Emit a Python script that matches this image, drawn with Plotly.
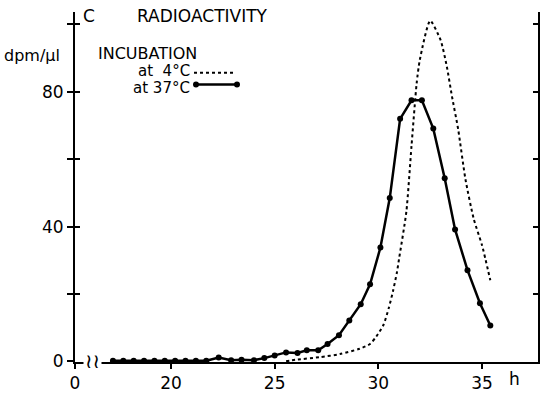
import plotly.graph_objects as go

# ---- data ----
hours_37 = [17.2, 17.7, 18.2, 18.7, 19.2, 19.7, 20.2, 20.7, 21.2, 21.7, 22.3, 22.9,
            23.4, 24.0, 24.5, 25.0, 25.55, 26.1, 26.55, 27.1, 27.55, 28.1, 28.6, 29.15,
            29.6, 30.1, 30.55, 31.05, 31.6, 32.1, 32.65, 33.2, 33.7, 34.3, 34.9, 35.4]
dpm_37 = [0.2, 0.2, 0.2, 0.2, 0.2, 0.2, 0.2, 0.2, 0.2, 0.2, 1.2, 0.4,
          0.5, 0.4, 1.0, 1.8, 2.7, 2.5, 3.3, 3.3, 5.2, 7.8, 12.2, 17.0,
          22.9, 33.8, 48.5, 72.0, 77.5, 77.5, 69.1, 54.4, 39.2, 27.1, 17.3, 10.7]

hours_4 = [25.55, 26.0, 27.2, 28.15, 29.1, 29.6, 29.9, 30.25, 30.5, 30.7, 30.9, 31.0,
           31.35, 31.6, 31.85, 32.0, 32.5, 33.0, 33.3, 33.55, 33.85, 34.2, 34.6, 35.0, 35.4]
dpm_4 = [0.05, 0.5, 1.3, 2.2, 3.8, 5.2, 7.4, 10.9, 15.8, 20.7, 26.6, 30.5,
         44.4, 64.0, 82.7, 89.5, 101.1, 95.4, 87.6, 78.7, 68.9, 54.1, 42.3, 34.5, 24.1]

x_tick_vals = [15.37, 20, 25, 30, 35]
x_tick_text = ["0", "20", "25", "30", "35"]
y_tick_vals = [0, 20, 40, 60, 80, 100]
y_tick_text = ["0", "", "40", "", "80", ""]

# ---- geometry ----
W, H = 544, 399
ML, MR, MT, MB = 75, 6, 12, 35
PW, PH = W - ML - MR, H - MT - MB
XR = [15.37, 37.70]
YR = [-0.15, 103.7]


def px(x):
    return (x - ML) / PW


def py(y):
    return (H - MB - y) / PH


FONT = "DejaVu Sans"
NB = "\u00a0"

fig = go.Figure()

fig.add_trace(go.Scatter(x=hours_4, y=dpm_4, mode="lines",
                         line=dict(color="black", width=2, dash="3px,3px", shape="spline", smoothing=0.6),
                         showlegend=False, hoverinfo="skip"))
fig.add_trace(go.Scatter(x=hours_37, y=dpm_37, mode="lines+markers", line=dict(color="black", width=2.5),
                         marker=dict(color="black", size=6), showlegend=False))
# invisible traces so that the extra tick axes are drawn
fig.add_trace(go.Scatter(x=hours_37, y=dpm_37, yaxis="y2", mode="lines", opacity=0, showlegend=False, hoverinfo="skip"))
fig.add_trace(go.Scatter(x=hours_37, y=dpm_37, yaxis="y3", mode="lines", opacity=0, showlegend=False, hoverinfo="skip"))

axis_common = dict(showgrid=False, zeroline=False)
fig.update_layout(
    width=W, height=H,
    margin=dict(l=ML, r=MR, t=MT, b=MB),
    paper_bgcolor="white", plot_bgcolor="white",
    font=dict(family=FONT, color="black"),
    xaxis=dict(range=XR, showline=True, linecolor="black", linewidth=2,
               ticks="outside", ticklen=5, tickwidth=2, tickcolor="black",
               tickvals=x_tick_vals, ticktext=x_tick_text,
               tickfont=dict(size=17, family=FONT), **axis_common),
    yaxis=dict(range=YR, showline=True, linecolor="black", linewidth=2,
               ticks="outside", ticklen=6, tickwidth=2, tickcolor="black",
               tickvals=y_tick_vals, ticktext=y_tick_text,
               tickfont=dict(size=17, family=FONT), **axis_common),
    yaxis2=dict(range=YR, overlaying="y", side="right", anchor="x", showline=True,
                linecolor="black", linewidth=2, ticks="inside", ticklen=5, tickwidth=2,
                tickcolor="black", tickvals=y_tick_vals, showticklabels=False, **axis_common),
    yaxis3=dict(range=YR, overlaying="y", side="left", anchor="x", showline=False,
                ticks="inside", ticklen=5, tickwidth=2, tickcolor="black",
                tickvals=y_tick_vals, showticklabels=False, **axis_common),
)

ann = []


def text(t, x, y, size=14, xanchor="center"):
    ann.append(dict(text=t, x=px(x), y=py(y), xref="paper", yref="paper", showarrow=False,
                    xanchor=xanchor, yanchor="middle", borderpad=0,
                    font=dict(size=size, family=FONT, color="black")))


text("C", 89, 16, 17)
text("RADIOACTIVITY", 202, 16, 17)
text("dpm/µl", 3, 56, 16, "left")
text("INCUBATION", 147, 54, 16)
text("at" + NB + NB + "4°C", 191, 71, 15, "right")
text("at" + NB + "37°C", 191, 88.5, 15, "right")
text("h", 514, 381, 17)
# axis break
ann.append(dict(text="≀≀", x=16.2, y=0, xref="x", yref="y", showarrow=False,
                xanchor="center", yanchor="middle", bgcolor="white",
                font=dict(size=20, family="DejaVu Sans", color="black")))
fig.update_layout(annotations=ann)

# legend keys
shapes = [
    dict(type="line", xref="paper", yref="paper", x0=px(194), x1=px(234), y0=py(73), y1=py(73),
         line=dict(color="black", width=2, dash="3px,3px")),
    dict(type="line", xref="paper", yref="paper", x0=px(196), x1=px(237), y0=py(85), y1=py(85),
         line=dict(color="black", width=2.5)),
]
for cx in (196, 237):
    shapes.append(dict(type="circle", xref="paper", yref="paper", x0=px(cx - 3), x1=px(cx + 3),
                       y0=py(85 + 3), y1=py(85 - 3), fillcolor="black", line=dict(color="black", width=0)))
fig.update_layout(shapes=shapes)

fig.write_html("out.html", config={"displayModeBar": False},
               post_script="document.body.style.margin='0';")
